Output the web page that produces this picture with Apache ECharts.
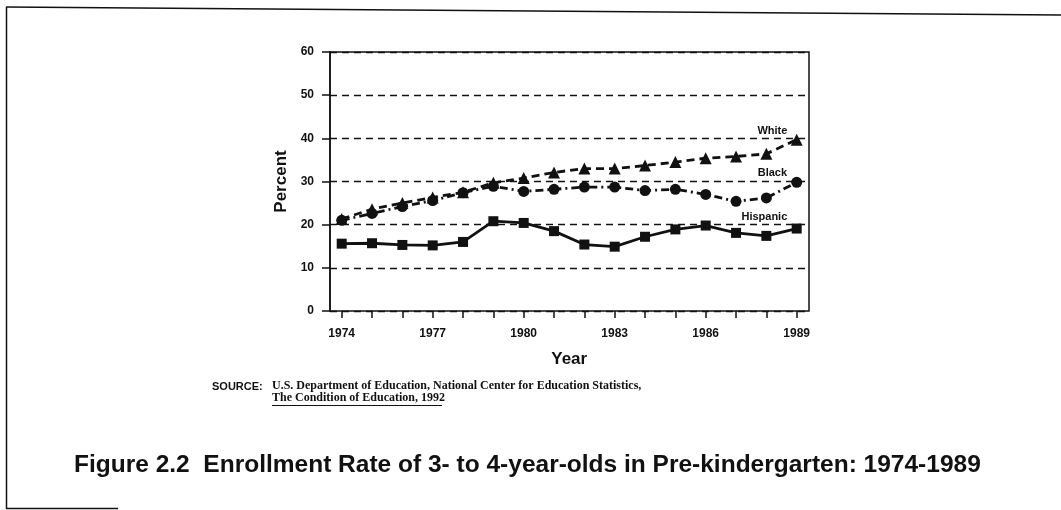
<!DOCTYPE html>
<html lang="en">
<head>
    <meta charset="UTF-8">
    <title>Figure 2.2 Enrollment Rate</title>
    <style>
        html, body { margin: 0; padding: 0; background: #fff; }
        #chart { width: 1061px; height: 510px; }
    </style>
</head>
<body>
<div id="chart"></div>
<script src="https://cdn.jsdelivr.net/npm/echarts@6/dist/echarts.min.js"></script>
<script type="text/javascript">
    // data
    var years = ['1974', '1975', '1976', '1977', '1978', '1979', '1980', '1981',
        '1982', '1983', '1984', '1985', '1986', '1987', '1988', '1989'];
    var white = [21.3, 23.6, 25.0, 26.3, 27.5, 29.7, 30.8, 32.1, 33.0, 33.0, 33.7, 34.5, 35.4, 35.8, 36.4, 39.7];
    var black = [21.0, 22.6, 24.2, 25.6, 27.4, 28.9, 27.7, 28.2, 28.7, 28.7, 27.9, 28.2, 27.0, 25.4, 26.2, 29.8];
    var hispanic = [15.6, 15.7, 15.3, 15.2, 16.0, 20.8, 20.4, 18.5, 15.4, 14.9, 17.2, 18.9, 19.8, 18.1, 17.4, 19.1];
    var yTicks = [0, 10, 20, 30, 40, 50, 60];

    var ink = '#111';
    var sans = 'Liberation Sans';

    function withLabel(arr, idx, text, offset) { // put the series name next to one point
        return arr.map(function (v, i) {
            if (i !== idx) return v;
            return {
                value: v,
                label: {
                    show: true, formatter: text, position: 'top', offset: offset,
                    color: ink, fontFamily: sans, fontWeight: 'bold', fontSize: 11
                }
            };
        });
    }

    var chart = echarts.init(document.getElementById('chart'));
    var option = {
        animation: false,
        backgroundColor: '#fff',
        grid: [
            {left: 330, right: 252, top: 52, bottom: 199, show: true, borderColor: ink, borderWidth: 1.5},
            {left: 341.7, right: 264.3, top: 52, bottom: 199}
        ],
        xAxis: [
            {gridIndex: 0, type: 'value', show: false, min: 0, max: 1},
            {
                gridIndex: 1, type: 'category', data: years, boundaryGap: false,
                name: 'Year', nameLocation: 'middle', nameGap: 40,
                nameTextStyle: {color: ink, fontFamily: sans, fontWeight: 'bold', fontSize: 17},
                axisLine: {show: false},
                axisTick: {show: true, interval: 0, length: 7, lineStyle: {color: ink, width: 1.5}},
                axisLabel: {interval: 2, margin: 17, color: ink, fontFamily: sans, fontWeight: 'bold', fontSize: 12},
                splitLine: {show: false}
            }
        ],
        yAxis: [
            {
                gridIndex: 0, type: 'value', min: yTicks[0], max: yTicks[yTicks.length - 1], interval: 10,
                name: 'Percent', nameLocation: 'middle', nameGap: 40, nameRotate: 90,
                nameTextStyle: {color: ink, fontFamily: sans, fontWeight: 'bold', fontSize: 17},
                axisLine: {show: true, lineStyle: {color: ink, width: 1.5}},
                axisTick: {show: true, length: 8, lineStyle: {color: ink, width: 1.5}},
                axisLabel: {margin: 16, color: ink, fontFamily: sans, fontWeight: 'bold', fontSize: 12},
                splitLine: {show: true, lineStyle: {color: ink, width: 1.3, type: [7, 5]}}
            },
            {gridIndex: 1, type: 'value', show: false, min: 0, max: 60}
        ],
        series: [
            {
                name: 'White', type: 'line', xAxisIndex: 1, yAxisIndex: 1,
                data: withLabel(white, 14, 'White', [6, -6]),
                symbol: 'triangle', symbolSize: 12,
                itemStyle: {color: ink},
                lineStyle: {color: ink, width: 2.8, type: [8, 5]}
            },
            {
                name: 'Black', type: 'line', xAxisIndex: 1, yAxisIndex: 1,
                data: withLabel(black, 14, 'Black', [6, -9]),
                symbol: 'circle', symbolSize: 11,
                itemStyle: {color: ink},
                lineStyle: {color: ink, width: 2.8, type: [8, 4, 2, 4]}
            },
            {
                name: 'Hispanic', type: 'line', xAxisIndex: 1, yAxisIndex: 1,
                data: withLabel(hispanic, 14, 'Hispanic', [-2, -3]),
                symbol: 'rect', symbolSize: 10,
                itemStyle: {color: ink},
                lineStyle: {color: ink, width: 2.8}
            }
        ],
        graphic: [
            // page frame of the scanned figure
            {type: 'line', shape: {x1: 6, y1: 7, x2: 1061, y2: 15}, style: {stroke: ink, lineWidth: 1.5}},
            {type: 'line', shape: {x1: 6.5, y1: 7, x2: 6.5, y2: 509}, style: {stroke: ink, lineWidth: 1.5}},
            {type: 'line', shape: {x1: 6, y1: 508.5, x2: 118, y2: 508.5}, style: {stroke: ink, lineWidth: 1.5}},
            // source note
            {
                type: 'text', left: 212, top: 381,
                style: {text: 'SOURCE:', fill: ink, font: 'bold 11px "Liberation Sans"'}
            },
            {
                type: 'text', left: 272, top: 380,
                style: {text: 'U.S. Department of Education, National Center for Education Statistics,', fill: ink, font: 'bold 12px "Liberation Serif"'}
            },
            {
                type: 'text', left: 272, top: 392,
                style: {text: 'The Condition of Education, 1992', fill: ink, font: 'bold 12px "Liberation Serif"'}
            },
            {type: 'line', shape: {x1: 272, y1: 405.5, x2: 442, y2: 405.5}, style: {stroke: ink, lineWidth: 1}},
            // figure caption
            {
                type: 'text', left: 74, top: 453,
                style: {text: 'Figure 2.2  Enrollment Rate of 3- to 4-year-olds in Pre-kindergarten: 1974-1989', fill: ink, font: 'bold 24.5px "Liberation Sans"'}
            }
        ]
    };
    chart.setOption(option);
</script>
</body>
</html>
